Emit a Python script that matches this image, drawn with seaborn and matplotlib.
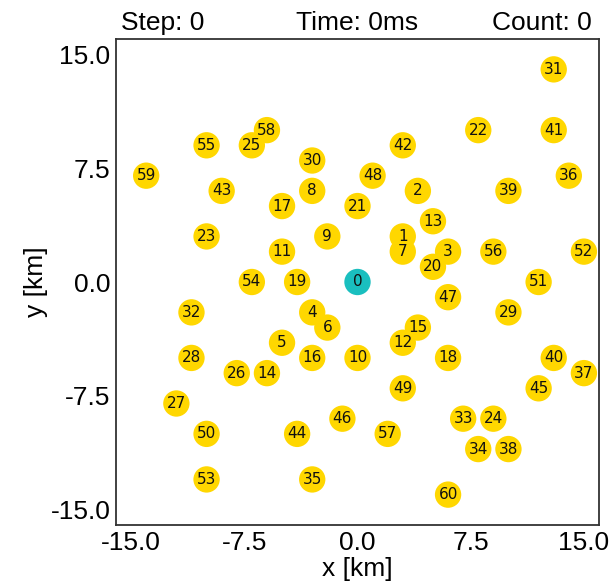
import matplotlib
matplotlib.use("Agg")
import matplotlib.pyplot as plt
import seaborn as sns
import pandas as pd

# ---- data ----
ids = list(range(61))
xs = [0, 3, 4, 6, -3, -5, -2, 3, -3, -2,
      0, -5, 3, 5, -6, 4, -3, -5, 6, -4,
      5, 0, 8, -10, 9, -7, -8, -12, -11, 10,
      -3, 13, -11, 7, 8, -3, 14, 15, 10, 10,
      13, 13, 3, -9, -4, 12, -1, 6, 1, 3,
      -10, 12, 15, -10, -7, -10, 9, 2, -6, -14,
      6]
ys = [0, 3, 6, 2, -2, -4, -3, 2, 6, 3,
      -5, 2, -4, 4, -6, -3, -5, 5, -5, 0,
      1, 5, 10, 3, -9, 9, -6, -8, -5, -2,
      8, 14, -2, -9, -11, -13, 7, -6, -11, 6,
      -5, 10, 9, 6, -10, -7, -9, -1, 7, -7,
      -10, 0, 2, -13, 0, 9, 2, -10, 10, 7,
      -14]
kinds = ["base"] + ["node"] * 60
palette = {"base": "#1ABFBF", "node": "#FFD700"}
xticks = [-15.0, -7.5, 0.0, 7.5, 15.0]
yticks = [-15.0, -7.5, 0.0, 7.5, 15.0]
titles = ["Step: 0", "Time: 0ms", "Count: 0"]

df = pd.DataFrame({"x": xs, "y": ys, "id": ids, "kind": kinds})

sns.set_theme(style="white")
plt.rcParams["font.family"] = ["Liberation Sans", "DejaVu Sans"]
plt.rcParams["text.color"] = "black"
plt.rcParams["axes.labelcolor"] = "black"

fig = plt.figure(figsize=(6.11, 5.86), dpi=100)
ax = fig.add_axes([116 / 611, 1 - 525 / 586, 483 / 611, 486 / 586])

sns.scatterplot(data=df, x="x", y="y", hue="kind", palette=palette,
                s=360, linewidth=0, legend=False, ax=ax, zorder=2)
for _, r in df.iterrows():
    ax.text(r["x"], r["y"], str(r["id"]), ha="center", va="center",
            fontsize=11, color="#111111", family="DejaVu Sans", zorder=3)

ax.set_xlim(-16, 16)
ax.set_ylim(-16, 16)
ax.set_xticks(xticks)
ax.set_yticks(yticks)
ax.set_xticklabels([f"{v:.1f}" for v in xticks])
ax.set_yticklabels([f"{v:.1f}" for v in yticks])
ax.tick_params(direction="in", length=5, width=1, colors="#333333",
               labelsize=19, labelcolor="black", pad=4)
ax.set_xlabel("x [km]", fontsize=19, labelpad=2, color="black")
ax.set_ylabel("y [km]", fontsize=19, labelpad=2, color="black")
for sp in ax.spines.values():
    sp.set_color("#333333")
    sp.set_linewidth(1.3)

ax.text(0.01, 1.018, titles[0], transform=ax.transAxes, ha="left",
        va="baseline", fontsize=19, color="black")
ax.text(0.5, 1.018, titles[1], transform=ax.transAxes, ha="center",
        va="baseline", fontsize=19, color="black")
ax.text(0.985, 1.018, titles[2], transform=ax.transAxes, ha="right",
        va="baseline", fontsize=19, color="black")

fig.savefig("out.png", dpi=100)
